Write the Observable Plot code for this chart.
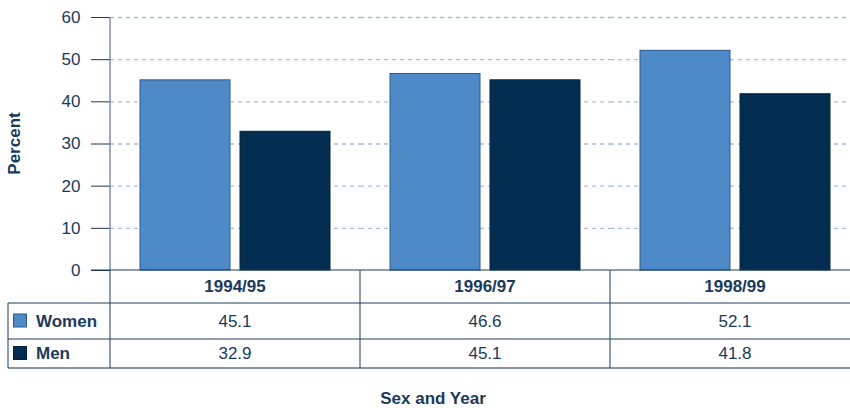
<!DOCTYPE html>
<html>
<head>
<meta charset="utf-8">
<script src="https://cdn.jsdelivr.net/npm/d3@7"></script>
<script src="https://cdn.jsdelivr.net/npm/@observablehq/plot@0.6"></script>
<style>
  html, body { margin: 0; padding: 0; background: #fff; }
  svg { display: block; }
</style>
</head>
<body>
<div id="chart"></div>
<script>
const years = ["1994/95", "1996/97", "1998/99"];
const sexes = ["Women", "Men"];
const women = [45.1, 46.6, 52.1];
const men = [32.9, 45.1, 41.8];
const colors = ["#4e8ac8", "#032d50"];
const strokes = ["#2b5b8c", "#02233f"];
const yTicks = [0, 10, 20, 30, 40, 50, 60];
const yLabel = "Percent";
const xLabel = "Sex and Year";

const series = { Women: women, Men: men };
const data = years.flatMap((yr, i) => sexes.map(s => ({ year: yr, sex: s, value: series[s][i] })));

const textColor = "#1a3a5c";
const font = "'Liberation Sans', Arial, sans-serif";
const fs = 17;

const chart = Plot.plot({
  width: 850,
  height: 408,
  marginTop: 17,
  marginBottom: 138,
  marginLeft: 110,
  marginRight: 0,
  style: { fontFamily: font, fontSize: fs + "px", color: textColor, background: "#fff" },
  fx: { domain: years, range: [110, 860], paddingInner: 0, paddingOuter: 0, axis: null, label: null },
  x: { domain: sexes, paddingInner: 0.1, paddingOuter: 0.3, axis: null, label: null },
  y: { domain: [0, 60], axis: null, label: null },
  color: { domain: sexes, range: colors },
  marks: [
    Plot.ruleY(yTicks.filter(d => d > 0), { stroke: "#a6bddf", strokeWidth: 1.3, strokeDasharray: "4,4" }),
    Plot.barY(data, {
      fx: "year", x: "sex", y: "value", fill: "sex",
      stroke: d => strokes[sexes.indexOf(d.sex)], strokeWidth: 1
    }),
    Plot.axisY(yTicks, {
      anchor: "left", tickSize: 19, tickPadding: 11, stroke: "#1f3550",
      fill: textColor, fontSize: fs, label: null
    })
  ]
});

document.getElementById("chart").appendChild(chart);

// Table & labels built from the chart's own scales
const svg = d3.select(chart);
const fx = chart.scale("fx");
const ys = chart.scale("y");
const y0 = ys.apply(0), yTop = ys.apply(60);
const colX = years.map(yr => fx.apply(yr));
const bw = fx.bandwidth;
const leftX = colX[0];
const tableLeft = 8;
const tableRight = 850;
const headerBottom = y0 + 33;
const row1Bottom = headerBottom + 36;
const row2Bottom = row1Bottom + 29;
const lineColor = "#1c3d5e";

const g = svg.append("g").attr("font-family", font).attr("font-size", fs)
  .style("font-size", fs + "px").attr("text-anchor", "start");

// y axis line
g.append("line").attr("x1", leftX).attr("x2", leftX).attr("y1", yTop).attr("y2", y0)
  .attr("stroke", "#6a7f96").attr("stroke-width", 1.3);

// baseline / table top
g.append("line").attr("x1", leftX - 19).attr("x2", tableRight).attr("y1", y0).attr("y2", y0)
  .attr("stroke", lineColor).attr("stroke-width", 1);

// horizontal row lines
[headerBottom, row1Bottom, row2Bottom].forEach(yy => {
  g.append("line").attr("x1", tableLeft).attr("x2", tableRight).attr("y1", yy).attr("y2", yy)
    .attr("stroke", yy === row2Bottom ? "#5d7189" : lineColor).attr("stroke-width", yy === row2Bottom ? 1.6 : 1);
});
// left border
g.append("line").attr("x1", tableLeft).attr("x2", tableLeft).attr("y1", headerBottom).attr("y2", row2Bottom)
  .attr("stroke", lineColor);
// column lines
colX.forEach(cx => {
  g.append("line").attr("x1", cx).attr("x2", cx).attr("y1", y0).attr("y2", row2Bottom)
    .attr("stroke", lineColor);
});

// header texts
years.forEach((yr, i) => {
  g.append("text").attr("x", colX[i] + bw / 2).attr("y", (y0 + headerBottom) / 2)
    .attr("dy", "0.35em").attr("text-anchor", "middle").attr("font-weight", "bold")
    .attr("fill", textColor).text(yr);
});

// rows
const rowMids = [(headerBottom + row1Bottom) / 2, (row1Bottom + row2Bottom) / 2];
sexes.forEach((s, r) => {
  g.append("rect").attr("x", 13.5).attr("y", rowMids[r] - 7).attr("width", 13).attr("height", 13)
    .attr("fill", colors[r]).attr("stroke", strokes[r]);
  g.append("text").attr("x", 36).attr("y", rowMids[r]).attr("dy", "0.35em")
    .attr("text-anchor", "start")
    .attr("font-weight", "bold").attr("fill", textColor).text(s);
  series[s].forEach((v, i) => {
    g.append("text").attr("x", colX[i] + bw / 2).attr("y", rowMids[r]).attr("dy", "0.35em")
      .attr("text-anchor", "middle").attr("fill", textColor).text(v.toFixed(1));
  });
});

// axis titles
g.append("text").attr("transform", `translate(14,${(yTop + y0) / 2}) rotate(-90)`)
  .attr("dy", "0.35em").attr("text-anchor", "middle").attr("font-weight", "bold")
  .attr("fill", textColor).text(yLabel);
g.append("text").attr("x", (tableLeft + tableRight) / 2 + 4).attr("y", 398).attr("dy", "0.35em")
  .attr("text-anchor", "middle").attr("font-weight", "bold").attr("fill", textColor).text(xLabel);
</script>
</body>
</html>
